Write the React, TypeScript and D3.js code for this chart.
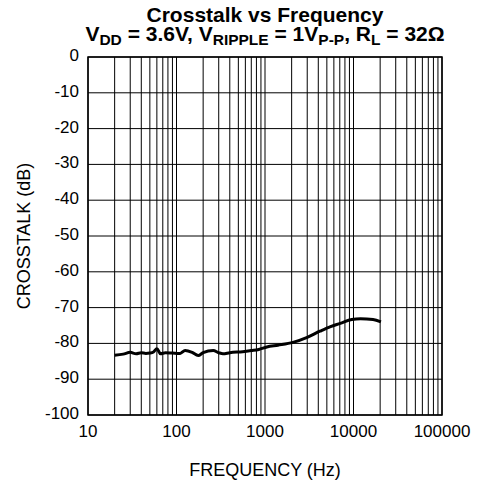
import React, { useEffect, useRef } from "react";
import * as d3 from "d3";

const freqs = [20, 25, 30, 35, 40, 45, 50, 55, 60, 66, 75, 90, 110, 125, 150, 176, 200, 260, 300, 335, 400, 560, 700, 850, 1050, 1400, 2070, 3000, 4170, 5500, 7080, 9550, 12000, 16600, 20400];
const crosstalk = [-83.3, -83.0, -82.5, -82.9, -82.6, -82.8, -82.7, -82.4, -81.5, -82.9, -82.6, -82.7, -82.8, -82.0, -82.5, -83.4, -82.6, -82.0, -82.6, -82.9, -82.6, -82.3, -82.0, -81.7, -81.0, -80.5, -79.7, -78.3, -76.6, -75.3, -74.4, -73.3, -73.1, -73.3, -74.0];

const yTicks = [0, -10, -20, -30, -40, -50, -60, -70, -80, -90, -100];
const xTicks = [10, 100, 1000, 10000, 100000];

const App: React.FC = () => {
  const svgRef = useRef<SVGSVGElement | null>(null);

  useEffect(() => {
    const width = 477;
    const height = 493;
    const margin = { top: 57, right: 35, bottom: 78, left: 88 };
    const font = "'Liberation Sans', Arial, sans-serif";

    const svg = d3.select(svgRef.current).attr("width", width).attr("height", height);
    svg.selectAll("*").remove();

    const x = d3.scaleLog().domain([10, 100000]).range([margin.left, width - margin.right]);
    const y = d3.scaleLinear().domain([-100, 0]).range([height - margin.bottom, margin.top]);

    // grid lines (log minor + majors)
    const gridX: number[] = [];
    for (let dec = 10; dec < 100000; dec *= 10) {
      for (let m = 1; m <= 9; m++) gridX.push(dec * m);
    }
    gridX.push(100000);

    svg
      .append("g")
      .selectAll("line")
      .data(gridX)
      .join("line")
      .attr("x1", (d) => x(d))
      .attr("x2", (d) => x(d))
      .attr("y1", y(0))
      .attr("y2", y(-100))
      .attr("stroke", "#000")
      .attr("stroke-width", 1);

    svg
      .append("g")
      .selectAll("line")
      .data(yTicks)
      .join("line")
      .attr("x1", x(10))
      .attr("x2", x(100000))
      .attr("y1", (d) => y(d))
      .attr("y2", (d) => y(d))
      .attr("stroke", "#000")
      .attr("stroke-width", 1);

    // frame
    svg
      .append("rect")
      .attr("x", x(10))
      .attr("y", y(0))
      .attr("width", x(100000) - x(10))
      .attr("height", y(-100) - y(0))
      .attr("fill", "none")
      .attr("stroke", "#000")
      .attr("stroke-width", 1.5);

    // tick labels
    svg
      .append("g")
      .selectAll("text")
      .data(yTicks)
      .join("text")
      .attr("x", x(10) - 9)
      .attr("y", (d) => y(d) - 2)
      .attr("dy", "0.35em")
      .attr("text-anchor", "end")
      .style("font-family", font)
      .style("font-size", "17px")
      .text((d) => `${d}`);

    svg
      .append("g")
      .selectAll("text")
      .data(xTicks)
      .join("text")
      .attr("x", (d) => x(d))
      .attr("y", y(-100) + 22)
      .attr("text-anchor", "middle")
      .style("font-family", font)
      .style("font-size", "17px")
      .text((d) => `${d}`);

    // axis titles
    svg
      .append("text")
      .attr("x", (x(10) + x(100000)) / 2)
      .attr("y", 476)
      .attr("text-anchor", "middle")
      .style("font-family", font)
      .style("font-size", "18px")
      .text("FREQUENCY (Hz)");

    svg
      .append("text")
      .attr("transform", `translate(30,${(y(0) + y(-100)) / 2}) rotate(-90)`)
      .attr("text-anchor", "middle")
      .style("font-family", font)
      .style("font-size", "18px")
      .text("CROSSTALK (dB)");

    // curve
    const pts: [number, number][] = freqs.map((f, i) => [f, crosstalk[i]]);
    const line = d3
      .line<[number, number]>()
      .x((d) => x(d[0]))
      .y((d) => y(d[1]))
      .curve(d3.curveMonotoneX);

    svg
      .append("path")
      .datum(pts)
      .attr("d", line)
      .attr("fill", "none")
      .attr("stroke", "#000")
      .attr("stroke-width", 3)
      .attr("stroke-linejoin", "round");

    // title
    const cx = (x(10) + x(100000)) / 2;
    svg
      .append("text")
      .attr("x", cx)
      .attr("y", 22)
      .attr("text-anchor", "middle")
      .style("font-family", font)
      .style("font-size", "21px")
      .style("font-weight", "bold")
      .text("Crosstalk vs Frequency");

    const sub = svg
      .append("text")
      .attr("x", cx)
      .attr("y", 41)
      .attr("text-anchor", "middle")
      .style("font-family", font)
      .style("font-size", "21px")
      .style("font-weight", "bold");

    const parts: [string, boolean][] = [
      ["V", false],
      ["DD", true],
      [" = 3.6V, V", false],
      ["RIPPLE", true],
      [" = 1V", false],
      ["P-P", true],
      [", R", false],
      ["L", true],
      [" = 32Ω", false],
    ];
    let prevSub = false;
    parts.forEach(([t, isSub]) => {
      const ts = sub.append("tspan").text(t);
      if (isSub) {
        ts.attr("dy", 4).style("font-size", "15.5px");
      } else if (prevSub) {
        ts.attr("dy", -4);
      }
      prevSub = isSub;
    });
  }, []);

  return <svg ref={svgRef} style={{ position: "absolute", left: 0, top: 0 }}></svg>;
};

export default App;
